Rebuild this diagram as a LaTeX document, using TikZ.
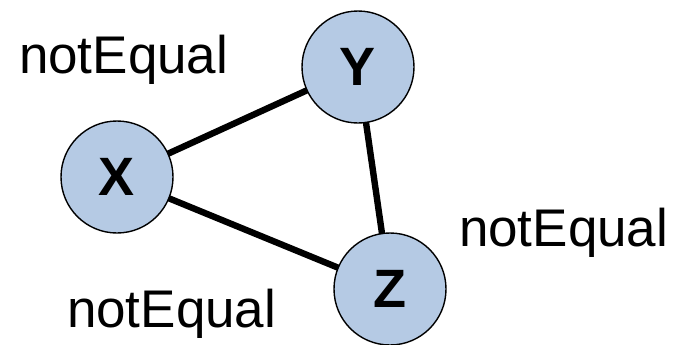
\documentclass[tikz,border=0pt]{standalone}
\usepackage{fontspec}
\setmainfont{Liberation Sans}
\usepackage{tikz}
\usetikzlibrary{positioning}
\definecolor{varblue}{RGB}{181,202,228}
\colorlet{edgeblack}{black}

\begin{document}
\begin{tikzpicture}[x=1pt,y=1pt,every node/.style={inner sep=0pt,outer sep=0pt},
    var/.style={circle,draw=black,line width=.7pt,fill=varblue,minimum size=56pt,font=\fontsize{27}{30}\selectfont\bfseries},
    cons/.style={font=\fontsize{26.5}{30}\selectfont,anchor=base west},
    link/.style={line width=3.2pt,edgeblack}]
    \useasboundingbox (0,0) rectangle (340,172);
    \node[var] (x) at (58.5,83.5) {X};
    \node[var] (y) at (179,138.5) {Y};
    \node[var] (z) at (195,27.5) {Z};
    \draw[link] (x)--(y);
    \draw[link] (y)--(z);
    \draw[link] (x)--(z);
    \node[cons] (lxy) at (9.5,135.5) {notEqual};
    \node[cons] (lyz) at (229.5,49) {notEqual};
    \node[cons] (lxz) at (33.5,8.5) {notEqual};
  \end{tikzpicture}
\end{document}
